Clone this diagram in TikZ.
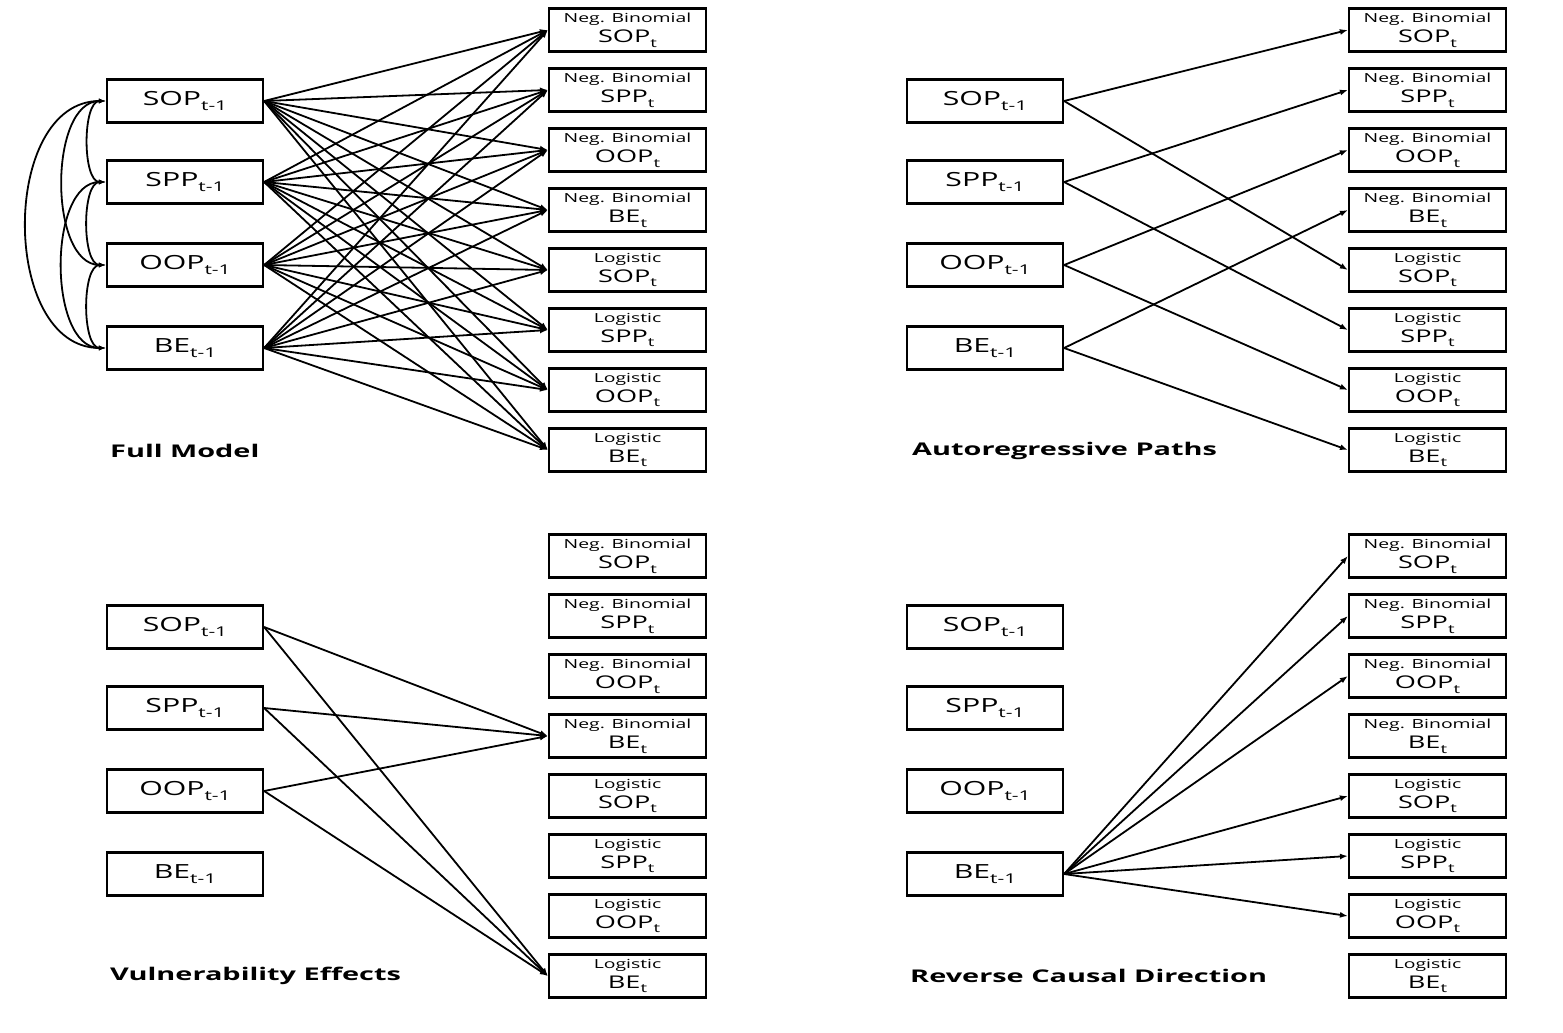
\documentclass[tikz,border=0pt]{standalone}
\usepackage{fontspec}
\usepackage{graphicx}
\setmainfont{Open Sans}
\usetikzlibrary{arrows.meta}
\newcommand\sxx[1]{\scalebox{1.55}[1]{#1}}
\newcommand\lefttxt[2]{\sxx{\fontsize{19.5}{19.5}\selectfont #1\raisebox{-0.45ex}{\fontsize{13.5}{13.5}\selectfont t-1}}}
\newcommand\righttxt[2]{\sxx{\fontsize{12.5}{12.5}\selectfont #1}\\[4pt]\sxx{\fontsize{17.5}{17.5}\selectfont #2\raisebox{-0.45ex}{\fontsize{12}{12}\selectfont t}}}
\tikzset{
  lbox/.style={draw, line width=2.2pt, minimum width=156pt, minimum height=43pt, inner sep=0pt},
  rbox/.style={draw, line width=2.2pt, minimum width=157pt, minimum height=43pt, inner sep=0pt, align=center},
  arr/.style={line width=1.8pt, -{Latex[length=8pt,width=6pt]}},
  darr/.style={line width=1.8pt, {Latex[length=7pt,width=5pt]}-{Latex[length=7pt,width=5pt]}},
  ttl/.style={anchor=west, inner sep=0pt, font=\bfseries\fontsize{17.5}{17.5}\selectfont}
}
\begin{document}
\begin{tikzpicture}[x=1pt,y=-1pt]
\useasboundingbox (0,0) rectangle (1563,1033);
\foreach \p/\dx/\dy in {a/0/0, b/800/0, c/0/526, d/800/526}{
  \foreach \n/\yy [count=\i] in {SOP/101, SPP/182, OOP/265, BE/348}{
    \node[lbox] (\p L\i) at (185+\dx,\yy+\dy) {\lefttxt{\n}{t-1}};
  }
  \foreach \t/\n [count=\j] in {Neg. Binomial/SOP, Neg. Binomial/SPP, Neg. Binomial/OOP, Neg. Binomial/BE, Logistic/SOP, Logistic/SPP, Logistic/OOP, Logistic/BE}{
    \node[rbox] (\p R\j) at (627.5+\dx,{30+60*(\j-1)+\dy}) {\righttxt{\t}{\n}};
  }
}
% titles
\node[ttl] (ta) at (110,451) {\scalebox{1.65}[1]{Full Model}};
\node[ttl] (tb) at (912,451) {\scalebox{1.65}[1]{Autoregressive Paths}};
\node[ttl] (tc) at (110,976) {\scalebox{1.65}[1]{Vulnerability Effects}};
\node[ttl] (td) at (910,976) {\scalebox{1.65}[1]{Reverse Causal Direction}};
% full model
\foreach \i in {1,...,4}{
  \foreach \j in {1,...,8}{
    \draw[arr] (aL\i.east) -- (aR\j.west);
  }
}
\draw[darr] (aL1.west) to[out=180,in=180,looseness=0.75] (aL2.west);
\draw[darr] (aL2.west) to[out=180,in=180,looseness=0.75] (aL3.west);
\draw[darr] (aL3.west) to[out=180,in=180,looseness=0.75] (aL4.west);
\draw[darr] (aL1.west) to[out=180,in=180,looseness=0.9] (aL3.west);
\draw[darr] (aL2.west) to[out=180,in=180,looseness=0.9] (aL4.west);
\draw[darr] (aL1.west) to[out=180,in=180,looseness=1.1] (aL4.west);
% autoregressive
\foreach \i/\j in {1/1,1/5,2/2,2/6,3/3,3/7,4/4,4/8}{
  \draw[arr] (bL\i.east) -- (bR\j.west);
}
% vulnerability
\foreach \i/\j in {1/4,1/8,2/4,2/8,3/4,3/8}{
  \draw[arr] (cL\i.east) -- (cR\j.west);
}
% reverse causal
\foreach \j in {1,2,3,5,6,7}{
  \draw[arr] (dL4.east) -- (dR\j.west);
}
\end{tikzpicture}
\end{document}
